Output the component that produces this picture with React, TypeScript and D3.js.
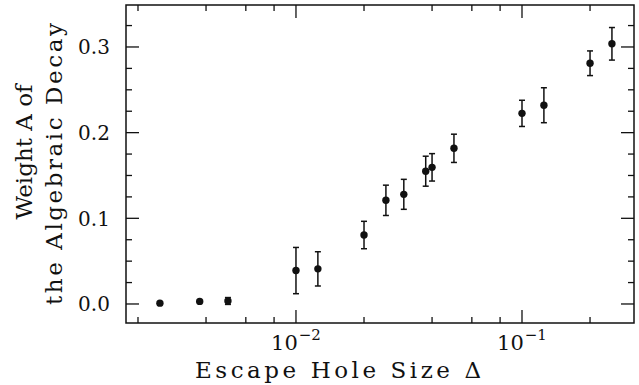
import React, { useRef, useEffect } from 'react';
import * as d3 from 'd3';

// escape hole size (x), weight A (y) and its error bar half-height
const holeSizes = [0.0025, 0.00375, 0.005, 0.01, 0.0125, 0.02, 0.025, 0.03, 0.0375, 0.04, 0.05, 0.1, 0.125, 0.2, 0.25];
const weights = [0.001, 0.003, 0.0035, 0.039, 0.041, 0.0805, 0.121, 0.128, 0.155, 0.1595, 0.1817, 0.2225, 0.232, 0.281, 0.3037];
const weightErrors = [0, 0, 0.004, 0.027, 0.02, 0.016, 0.0177, 0.0175, 0.0175, 0.016, 0.0165, 0.0153, 0.0204, 0.0144, 0.019];

const xMajorTicks = [0.01, 0.1];
const xMajorExponents = ['\u22122', '\u22121'];
const xMinorTicks = [0.002, 0.004, 0.006, 0.008, 0.02, 0.04, 0.06, 0.08, 0.2];
const yMajorTicks = [0, 0.1, 0.2, 0.3];
const yTickLabels = ['0.0', '0.1', '0.2', '0.3'];
const yMinorTicks = [0.025, 0.05, 0.075, 0.125, 0.15, 0.175, 0.225, 0.25, 0.275, 0.325];

const width = 639;
const height = 385;
const FONT = '"DejaVu Serif", "Liberation Serif", serif';

const App: React.FC = () => {
  const svgRef = useRef<SVGSVGElement>(null);

  useEffect(() => {
    if (!svgRef.current) return;
    const svg = d3.select(svgRef.current);
    svg.selectAll('*').remove();

    const frame = { left: 126, right: 634, top: 5, bottom: 323 };

    const x = d3.scaleLog().domain([0.00177, 0.313]).range([frame.left, frame.right]);
    const y = d3.scaleLinear().domain([-0.0222, 0.349]).range([frame.bottom, frame.top]);

    const ink = '#111';

    // frame
    svg
      .append('rect')
      .attr('x', frame.left)
      .attr('y', frame.top)
      .attr('width', frame.right - frame.left)
      .attr('height', frame.bottom - frame.top)
      .attr('fill', 'none')
      .attr('stroke', ink)
      .attr('stroke-width', 1.5);

    const ticks = svg.append('g').attr('stroke', ink).attr('stroke-width', 1.3);
    const majorLen = 13;
    const minorLen = 6;

    // x ticks on bottom and top
    const xTick = (v: number, len: number) => {
      ticks.append('line').attr('x1', x(v)).attr('x2', x(v)).attr('y1', frame.bottom).attr('y2', frame.bottom - len);
      ticks.append('line').attr('x1', x(v)).attr('x2', x(v)).attr('y1', frame.top).attr('y2', frame.top + len);
    };
    xMajorTicks.forEach(v => xTick(v, majorLen));
    xMinorTicks.forEach(v => xTick(v, minorLen));

    // y ticks on left and right
    const yTick = (v: number, len: number) => {
      ticks.append('line').attr('y1', y(v)).attr('y2', y(v)).attr('x1', frame.left).attr('x2', frame.left + len);
      ticks.append('line').attr('y1', y(v)).attr('y2', y(v)).attr('x1', frame.right).attr('x2', frame.right - len);
    };
    yMajorTicks.forEach(v => yTick(v, majorLen));
    yMinorTicks.forEach(v => yTick(v, minorLen));

    // y tick labels
    svg
      .selectAll('.ylab')
      .data(yMajorTicks)
      .enter()
      .append('text')
      .attr('class', 'ylab')
      .attr('x', 110)
      .attr('y', d => y(d) + 7.5)
      .attr('text-anchor', 'end')
      .attr('font-family', FONT)
      .attr('font-size', 20)
      .attr('textLength', 32)
      .attr('lengthAdjust', 'spacing')
      .attr('fill', ink)
      .text((d, i) => yTickLabels[i]);

    // x tick labels 10^n
    xMajorTicks.forEach((v, i) => {
      const t = svg
        .append('text')
        .attr('x', x(v))
        .attr('y', 350)
        .attr('text-anchor', 'middle')
        .attr('font-family', FONT)
        .attr('font-size', 21)
        .attr('fill', ink);
      t.append('tspan').text('10');
      t.append('tspan').attr('font-size', 15).attr('dy', -10).attr('dx', 1).text(xMajorExponents[i]);
    });

    // axis titles
    svg
      .append('text')
      .attr('x', 338)
      .attr('y', 378)
      .attr('text-anchor', 'middle')
      .attr('font-family', FONT)
      .attr('font-size', 23)
      .attr('textLength', 286)
      .attr('lengthAdjust', 'spacing')
      .attr('fill', ink)
      .text('Escape Hole Size \u0394');

    const yTitle = [
      { text: 'Weight A of', cx: 152, base: 32, len: 135 },
      { text: 'the Algebraic Decay', cx: 164, base: 62, len: 282 },
    ];
    yTitle.forEach(l => {
      svg
        .append('text')
        .attr('transform', `translate(${l.base}, ${l.cx}) rotate(-90)`)
        .attr('text-anchor', 'middle')
        .attr('font-family', FONT)
        .attr('font-size', 23)
        .attr('textLength', l.len)
        .attr('lengthAdjust', 'spacing')
        .attr('fill', ink)
        .text(l.text);
    });

    // error bars
    const bars = svg.append('g').attr('stroke', ink).attr('stroke-width', 1.5);
    holeSizes.forEach((hs, i) => {
      const e = weightErrors[i];
      if (!e) return;
      const cx = x(hs);
      const y0 = y(weights[i] - e);
      const y1 = y(weights[i] + e);
      bars.append('line').attr('x1', cx).attr('x2', cx).attr('y1', y0).attr('y2', y1);
      bars.append('line').attr('x1', cx - 3).attr('x2', cx + 3).attr('y1', y0).attr('y2', y0);
      bars.append('line').attr('x1', cx - 3).attr('x2', cx + 3).attr('y1', y1).attr('y2', y1);
    });

    // points
    svg
      .selectAll('.pt')
      .data(holeSizes)
      .enter()
      .append('circle')
      .attr('class', 'pt')
      .attr('cx', d => x(d))
      .attr('cy', (d, i) => y(weights[i]))
      .attr('r', 3.7)
      .attr('fill', ink);
  }, []);

  return (
    <svg
      ref={svgRef}
      width={width}
      height={height}
      style={{ position: 'absolute', left: 0, top: 0, background: '#fff' }}
    ></svg>
  );
};

export default App;
